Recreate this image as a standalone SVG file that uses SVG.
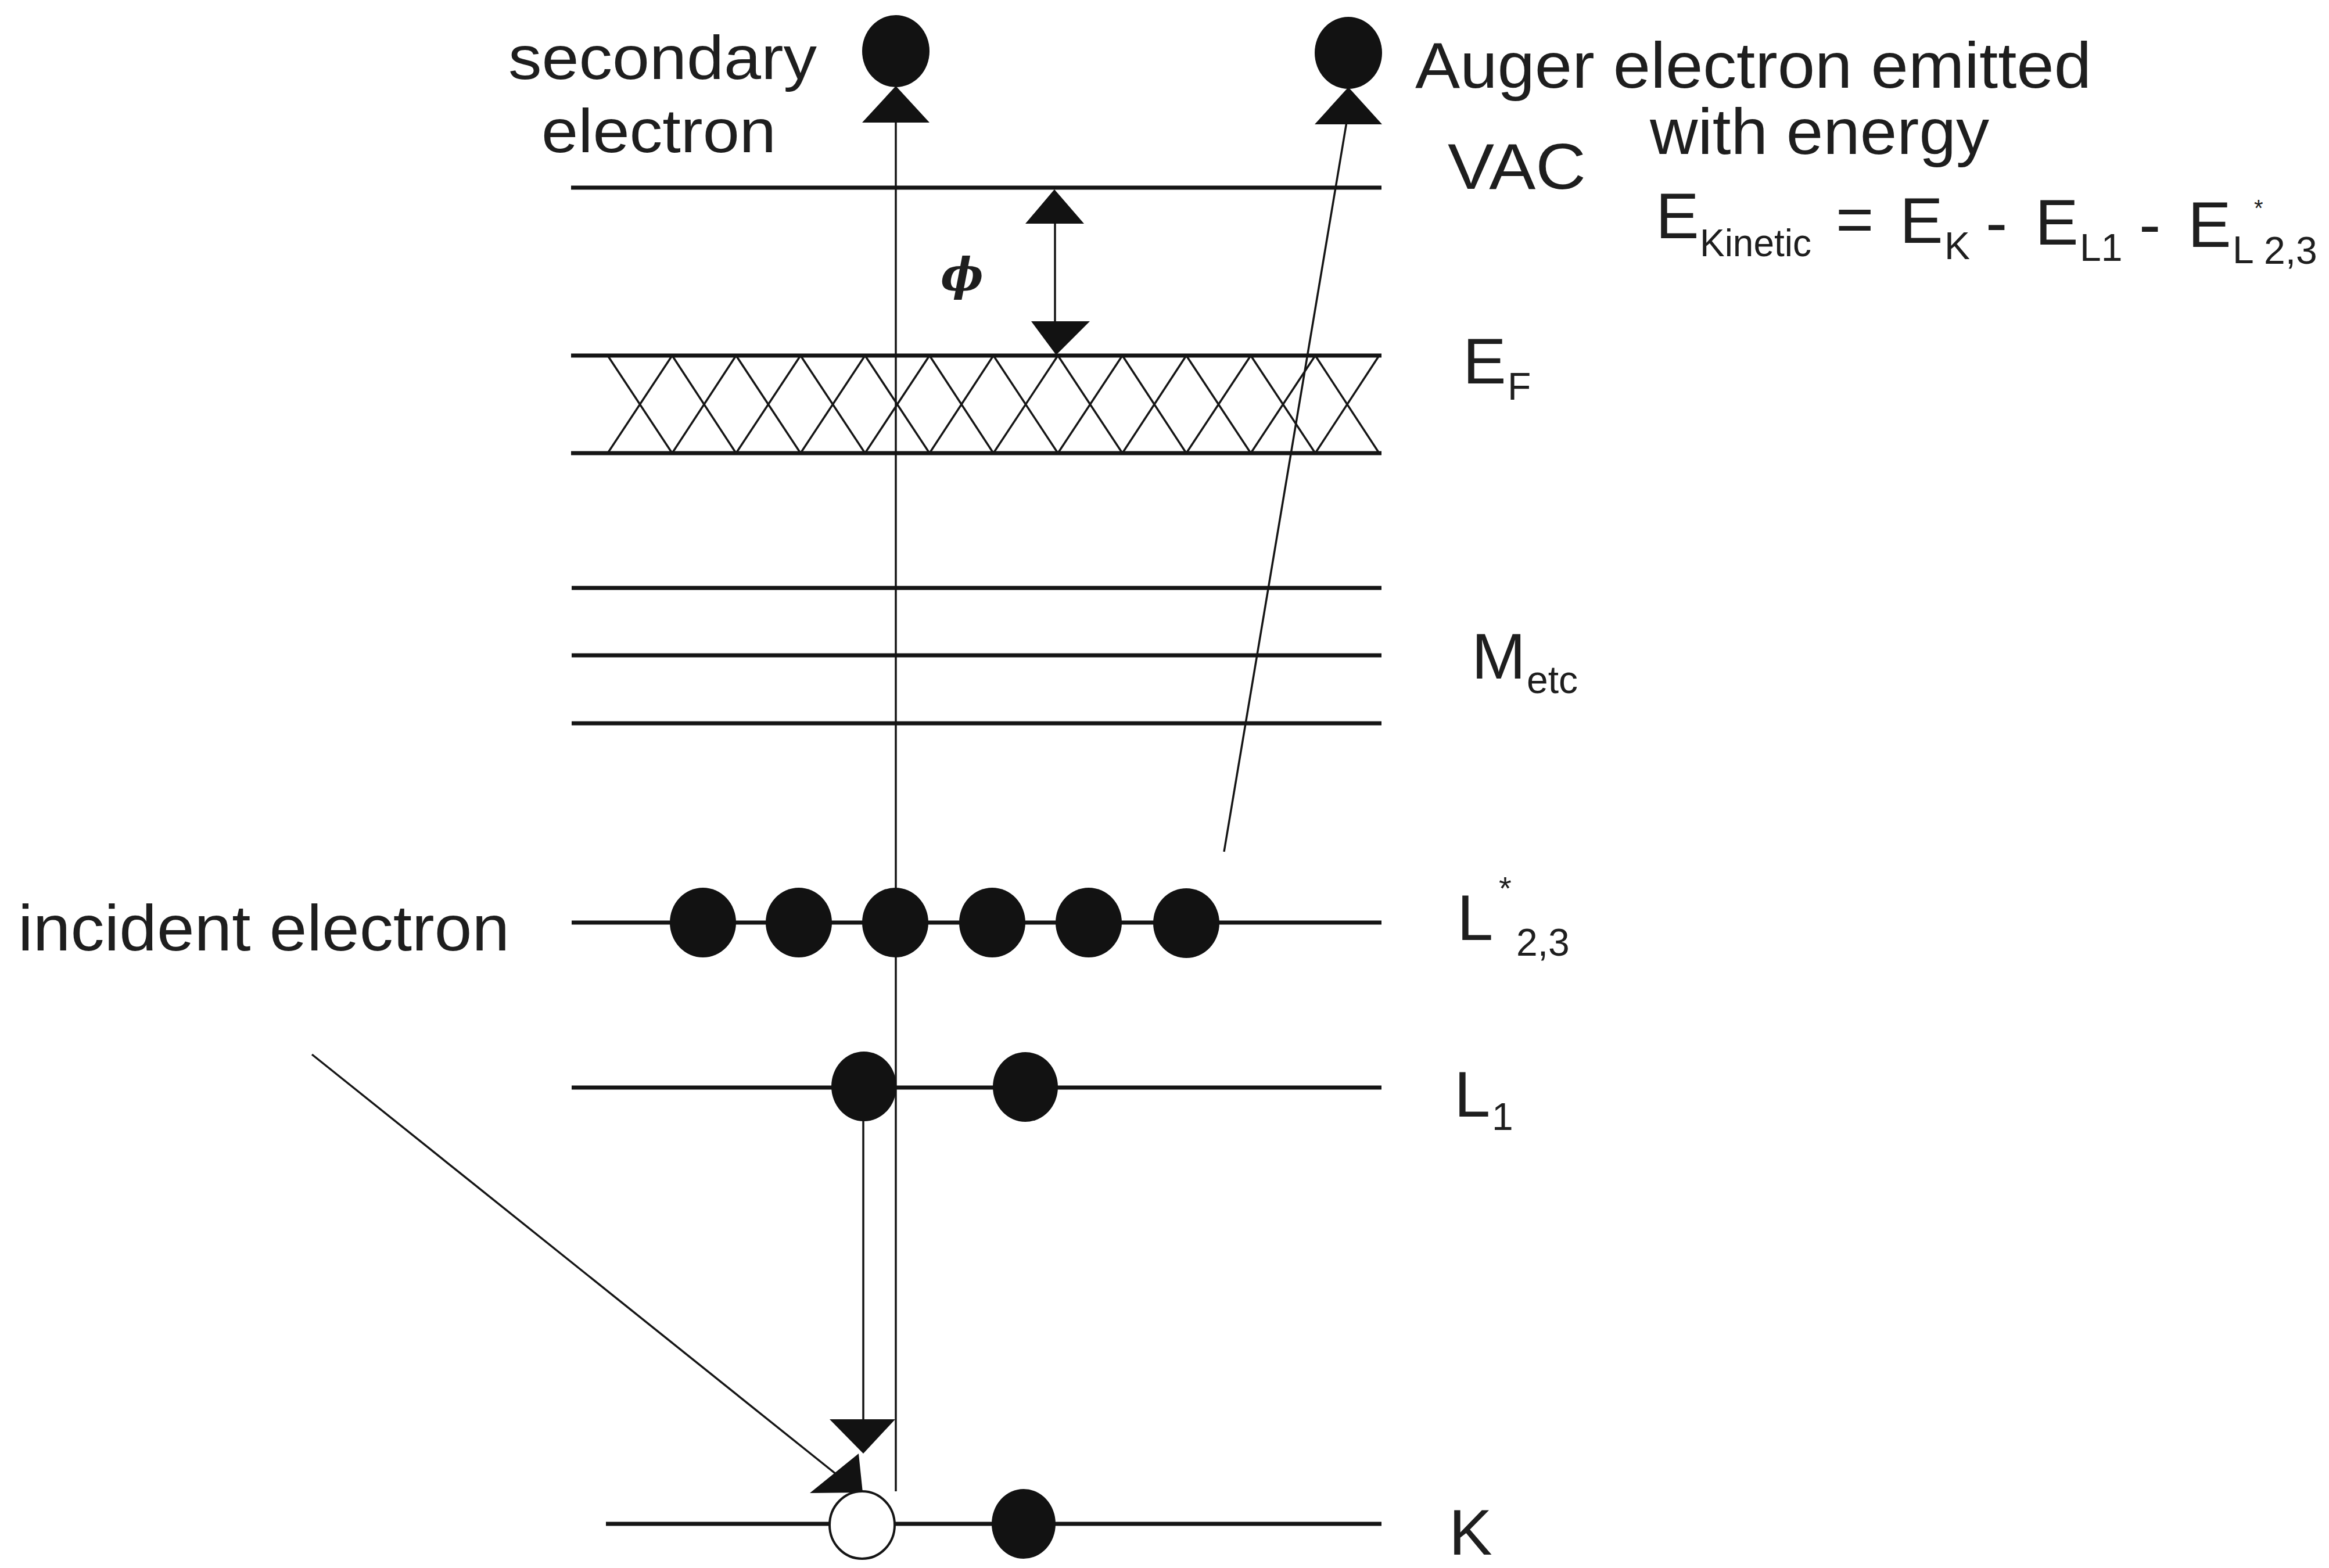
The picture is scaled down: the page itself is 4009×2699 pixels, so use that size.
<svg xmlns="http://www.w3.org/2000/svg" width="4009" height="2699" viewBox="0 0 4009 2699">
<style>
.lvl{stroke:#151515;stroke-width:7;fill:none}
.thin{stroke:#151515;stroke-width:3.5;fill:none}
.hatch{stroke:#151515;stroke-width:3.5;fill:none}
.ball{fill:#121212}
.hole{fill:#fff;stroke:#151515;stroke-width:4}
.head{fill:#121212}
text{font-family:"Liberation Sans",Arial,Helvetica,sans-serif;fill:#1e1e1e}
.lbl{font-size:112px}
.sub{font-size:66px}
.sup{font-size:56px}
</style>
<rect x="0" y="0" width="4009" height="2699" fill="#fff"/>

<g id="level-vac"><line class="lvl" x1="983" y1="323" x2="2378" y2="323"/></g>
<g id="level-ef">
<line class="lvl" x1="983" y1="612" x2="2378" y2="612"/>
<line class="lvl" x1="983" y1="780" x2="2378" y2="780"/>
<path class="hatch" d="M1046 612L1157 780M1157 612L1046 780M1157 612L1267 780M1267 612L1157 780M1267 612L1378 780M1378 612L1267 780M1378 612L1489 780M1489 612L1378 780M1489 612L1600 780M1600 612L1489 780M1600 612L1710 780M1710 612L1600 780M1710 612L1821 780M1821 612L1710 780M1821 612L1932 780M1932 612L1821 780M1932 612L2042 780M2042 612L1932 780M2042 612L2153 780M2153 612L2042 780M2153 612L2264 780M2264 612L2153 780M2264 612L2374 780M2374 612L2264 780"/>
</g>
<g id="level-m">
<line class="lvl" x1="984" y1="1012" x2="2378" y2="1012"/>
<line class="lvl" x1="984" y1="1128" x2="2378" y2="1128"/>
<line class="lvl" x1="984" y1="1245" x2="2378" y2="1245"/>
</g>
<g id="level-l23"><line class="lvl" x1="984" y1="1588" x2="2378" y2="1588"/></g>
<g id="level-l1"><line class="lvl" x1="984" y1="1872" x2="2378" y2="1872"/></g>
<g id="level-k"><line class="lvl" x1="1043" y1="2623" x2="2378" y2="2623"/></g>

<g id="connectors">
<line class="thin" x1="1542" y1="208" x2="1542" y2="2567"/>
<line class="thin" x1="2318" y1="210" x2="2107" y2="1466"/>
<line class="thin" x1="1816" y1="380" x2="1816" y2="558"/>
<line class="thin" x1="1486" y1="1925" x2="1486" y2="2447"/>
<line class="thin" x1="537" y1="1815" x2="1440" y2="2538"/>
<polygon class="head" points="1542,148 1484,211 1600,211"/>
<polygon class="head" points="2321,150 2263,214 2379,214"/>
<polygon class="head" points="1815,326 1765,385 1866,385"/>
<polygon class="head" points="1818,611 1775,553 1876,553"/>
<polygon class="head" points="1486,2502 1428,2443 1541,2443"/>
<polygon class="head" points="1394,2570 1485,2569 1478,2502"/>
</g>

<g id="electron-secondary"><ellipse class="ball" cx="1542" cy="88" rx="58" ry="62"/></g>
<g id="electron-auger"><ellipse class="ball" cx="2321" cy="91" rx="58" ry="62"/></g>
<g id="electrons-l23">
<ellipse class="ball" cx="1210" cy="1588" rx="57" ry="60"/>
<ellipse class="ball" cx="1375" cy="1588" rx="57" ry="60"/>
<ellipse class="ball" cx="1541" cy="1588" rx="57" ry="60"/>
<ellipse class="ball" cx="1708" cy="1588" rx="57" ry="60"/>
<ellipse class="ball" cx="1874" cy="1588" rx="57" ry="60"/>
<ellipse class="ball" cx="2042" cy="1589" rx="57" ry="60"/>
</g>
<g id="electrons-l1">
<ellipse class="ball" cx="1487" cy="1870" rx="56" ry="60"/>
<ellipse class="ball" cx="1765" cy="1871" rx="56" ry="60"/>
</g>
<g id="electrons-k">
<ellipse class="hole" cx="1484" cy="2625" rx="56" ry="58"/>
<ellipse class="ball" cx="1762" cy="2623" rx="55" ry="60"/>
</g>

<g id="label-secondary">
<text x="875" y="136" font-size="106" textLength="531" lengthAdjust="spacingAndGlyphs">secondary</text>
<text x="932" y="262" font-size="106" textLength="404" lengthAdjust="spacingAndGlyphs">electron</text>
</g>
<g id="label-auger">
<text class="lbl" x="2436" y="151" textLength="1164" lengthAdjust="spacingAndGlyphs">Auger electron emitted</text>
<text class="lbl" x="2840" y="265" textLength="584" lengthAdjust="spacingAndGlyphs">with energy</text>
</g>
<g id="label-equation">
<text class="lbl" x="2850" y="410">E</text>
<text class="sub" x="2926" y="441" textLength="192" lengthAdjust="spacingAndGlyphs">Kinetic</text>
<text class="lbl" x="3160" y="416">=</text>
<text class="lbl" x="3270" y="418">E</text>
<text class="sub" x="3347" y="446">K</text>
<text class="lbl" x="3418" y="421">-</text>
<text class="lbl" x="3503" y="421">E</text>
<text class="sub" x="3580" y="449">L1</text>
<text class="lbl" x="3682" y="424">-</text>
<text class="lbl" x="3766" y="425">E</text>
<text class="sub" x="3843" y="453">L</text>
<text x="3880" y="372" font-size="40">*</text>
<text class="sub" x="3897" y="454">2,3</text>
</g>
<g id="label-phi"><text x="1656" y="500" text-anchor="middle" font-style="italic" font-weight="bold" font-size="78" style="font-family:'DejaVu Serif',serif">ϕ</text></g>
<g id="label-vac"><text class="lbl" x="2492" y="325" textLength="238" lengthAdjust="spacingAndGlyphs">VAC</text></g>
<g id="label-ef">
<text class="lbl" x="2518" y="660">E</text>
<text class="sub" x="2595" y="688">F</text>
</g>
<g id="label-m">
<text class="lbl" x="2533" y="1168">M</text>
<text class="sub" x="2628" y="1193">etc</text>
</g>
<g id="label-l23">
<text class="lbl" x="2508" y="1618">L</text>
<text class="sup" x="2580" y="1548">*</text>
<text class="sub" x="2610" y="1645">2,3</text>
</g>
<g id="label-l1">
<text class="lbl" x="2503" y="1922">L</text>
<text class="sub" x="2568" y="1945">1</text>
</g>
<g id="label-k"><text class="lbl" x="2494" y="2676">K</text></g>
<g id="label-incident"><text class="lbl" x="31" y="1636" textLength="846" lengthAdjust="spacingAndGlyphs">incident electron</text></g>
</svg>
